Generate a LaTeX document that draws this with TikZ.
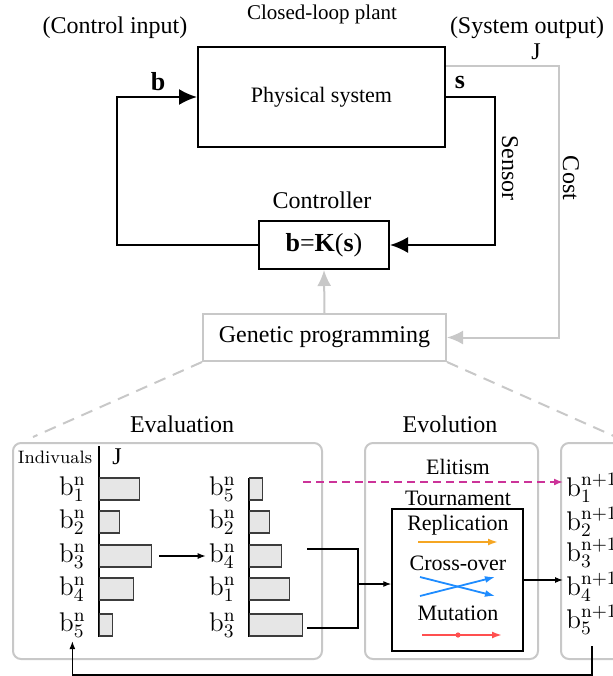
\documentclass[tikz,border=0pt]{standalone}
\usepackage{fix-cm}
\usepackage[no-math]{fontspec}
\setmainfont{Liberation Serif}
\usetikzlibrary{positioning,arrows.meta}
\definecolor{gline}{HTML}{C8C8C8}
\definecolor{barfill}{HTML}{E6E6E6}
\definecolor{bardraw}{HTML}{3C3C3C}
\definecolor{reporange}{HTML}{F5A623}
\definecolor{crossblue}{HTML}{1E8CFF}
\definecolor{mutred}{HTML}{FF4F4F}
\definecolor{elitmag}{HTML}{CC3399}

\begin{document}
\begin{tikzpicture}[x=0.5pt,y=-0.5pt,
		blk/.style={rectangle,draw,line width=1pt,inner sep=0pt},
		gbox/.style={rectangle,draw=gline,line width=1pt,inner sep=0pt},
		panel/.style={rectangle,draw=gline,line width=1pt,rounded corners=4pt,inner sep=0pt},
		t/.style={font=\fontsize{12}{14}\selectfont},
		bt/.style={font=\bfseries\fontsize{13}{15}\selectfont},
		et/.style={font=\fontsize{11}{13}\selectfont,inner sep=1pt},
		mlab/.style={font=\fontsize{13.5}{15}\selectfont,inner sep=1.5pt},
		bar/.style={rectangle,draw=bardraw,fill=barfill,line width=0.7pt,minimum height=11pt,inner sep=0pt,anchor=west},
		la/.style={draw,line width=1pt,-{Latex[length=9pt,width=8pt]}},
		ga/.style={draw=gline,line width=1pt,-{Latex[length=8pt,width=7pt]}},
		sa/.style={draw,line width=0.6pt,-{Latex[length=4pt,width=3pt]}},
		ca/.style={line width=0.9pt,-{Latex[length=5pt,width=3.5pt]}}
		]
		\useasboundingbox (0,0) rectangle (613,676);
		
		% closed loop
		\node [t] (input label) at (115,28) {(Control input)};
		\node [font=\fontsize{10.5}{12}\selectfont] (plant label) at (322,14) {Closed-loop plant};
		\node [t] (output label) at (527,28) {(System output)};
		\node [blk,minimum width=123.5pt,minimum height=50pt,font=\fontsize{11}{13}\selectfont] (plant) at (321.5,97) {Physical system};
		\node [t] (ctrl label) at (322,200) {Controller};
		\node [blk,minimum width=65pt,minimum height=24pt,font=\fontsize{13}{15}\selectfont] (ctrl) at (324,245) {\textbf{b}=\textbf{K}(\textbf{s})};
		\node [gbox,t,minimum width=121.5pt,minimum height=23.5pt] (gp) at (324.5,337.5) {Genetic programming};
		
		\node [bt] (b label) at (158,82) {b};
		\node [bt] (s label) at (460,82) {s};
		\node [t] (J label) at (536,52) {J};
		\node [t,rotate=-90] (sensor) at (510,168) {Sensor};
		\node [t,rotate=-90] (cost) at (571,178) {Cost};
		
		\coordinate (bin) at (117,97);
		\coordinate (sout) at (495,97);
		\coordinate (jout) at (559,66);
		\path [la] (ctrl.west) -| (bin) -- (plant.west);
		\path [la] (plant.east) -- (sout) |- (ctrl.east);
		\path [ga] (jout -| plant.east) -- (jout) |- (gp.east);
		\path [ga] (gp.north) -- (ctrl.south);
		
		\coordinate (zoom left) at (33,437);
		\coordinate (zoom right) at (616,437);
		\draw [gline,line width=1pt,dash pattern=on 6pt off 4pt] (gp.south west) -- (zoom left);
		\draw [gline,line width=1pt,dash pattern=on 6pt off 4pt] (gp.south east) -- (zoom right);
		
		% panels
		\node [panel,minimum width=154.5pt,minimum height=108pt] (eval) at (167.5,551) {};
		\node [panel,minimum width=86.5pt,minimum height=108pt] (evol) at (451.5,551) {};
		\node [panel,minimum width=80pt,minimum height=108pt] (next) at (641,551) {};
		\node [t] (eval title) at (182,424) {Evaluation};
		\node [t] (evol title) at (450,424) {Evolution};
		
		% evaluation
		\node [font=\fontfamily{lmr}\selectfont\fontsize{9}{11}\selectfont] (indiv) at (55,457) {Indivuals};
		\node [t] (J axis) at (117,457) {J};
		\draw [line width=0.6pt] (99,446) -- (99,637);
		\draw [line width=0.6pt] (249,478) -- (249,637);
		\foreach \i/\y/\w in {1/489/20,2/522/10,3/556/26,4/589/17,5/625/6.5} {
			\node [bar,minimum width=\w pt] (lbar\i) at (99,\y) {};
			\node [mlab,anchor=east] (l\i) at (89,\y) {$\mathrm{b}^{\mathrm{n}}_{\i}$};
		}
		\foreach \k/\y/\w in {5/489/6.5,2/522/10,4/556/16,1/589/20,3/625/26.5} {
			\node [bar,minimum width=\w pt] (rbar\k) at (249,\y) {};
			\node [mlab,anchor=east] (r\k) at (239,\y) {$\mathrm{b}^{\mathrm{n}}_{\k}$};
		}
		\path [sa] ([xshift=3.5pt]lbar3.east) -- (r4.west);
		
		% evolution
		\node [et] (elit) at (458,467) {Elitism};
		\node [et] (tour label) at (458,498) {Tournament};
		\node [draw,line width=0.7pt,minimum width=65.5pt,minimum height=71pt,inner sep=0pt] (tourn) at (457.5,580) {};
		\node [et] (repl) at (458,525) {Replication};
		\node [et] (cross) at (458,563) {Cross-over};
		\node [et] (mut) at (458,613) {Mutation};
		\draw [ca,reporange] ([shift={(-40,17)}]repl.center) -- ++(80,0);
		\draw [ca,crossblue] ([shift={(-38,14)}]cross.center) -- ++(75,19);
		\draw [ca,crossblue] ([shift={(-38,33)}]cross.center) -- ++(75,-19);
		\draw [ca,mutred] ([shift={(-36,22)}]mut.center) -- ++(80,0);
		\fill [mutred] ([shift={(0,22)}]mut.center) circle (1.3pt);
		
		\coordinate (sel top) at (307,549);
		\coordinate (sel mid) at (358,584);
		\coordinate (sel bot) at (307,628);
		\draw [line width=0.7pt] (sel top) -| (sel mid) |- (sel bot);
		\path [sa] (sel mid) -- (sel mid -| tourn.west);
		
		% next generation
		\foreach \i/\y in {1/488,2/522,3/553,4/587,5/620}
			\node [mlab,anchor=west] (n\i) at (563,\y) {$\mathrm{b}^{\mathrm{n+1}}_{\i}$};
		\path [sa] (tourn.east) -- (tourn.east -| n4.west);
		
		\coordinate (elit start) at (303,482);
		\draw [elitmag,line width=0.8pt,dash pattern=on 4pt off 2.5pt,-{Latex[length=4.5pt,width=3.5pt]}] (elit start) -- (elit start -| n1.west);
		
		\coordinate (back) at (592,675);
		\path [sa] ([yshift=-4pt]back |- n5.south) -- (back) -| (l5.south);
		
	\end{tikzpicture}
\end{document}
